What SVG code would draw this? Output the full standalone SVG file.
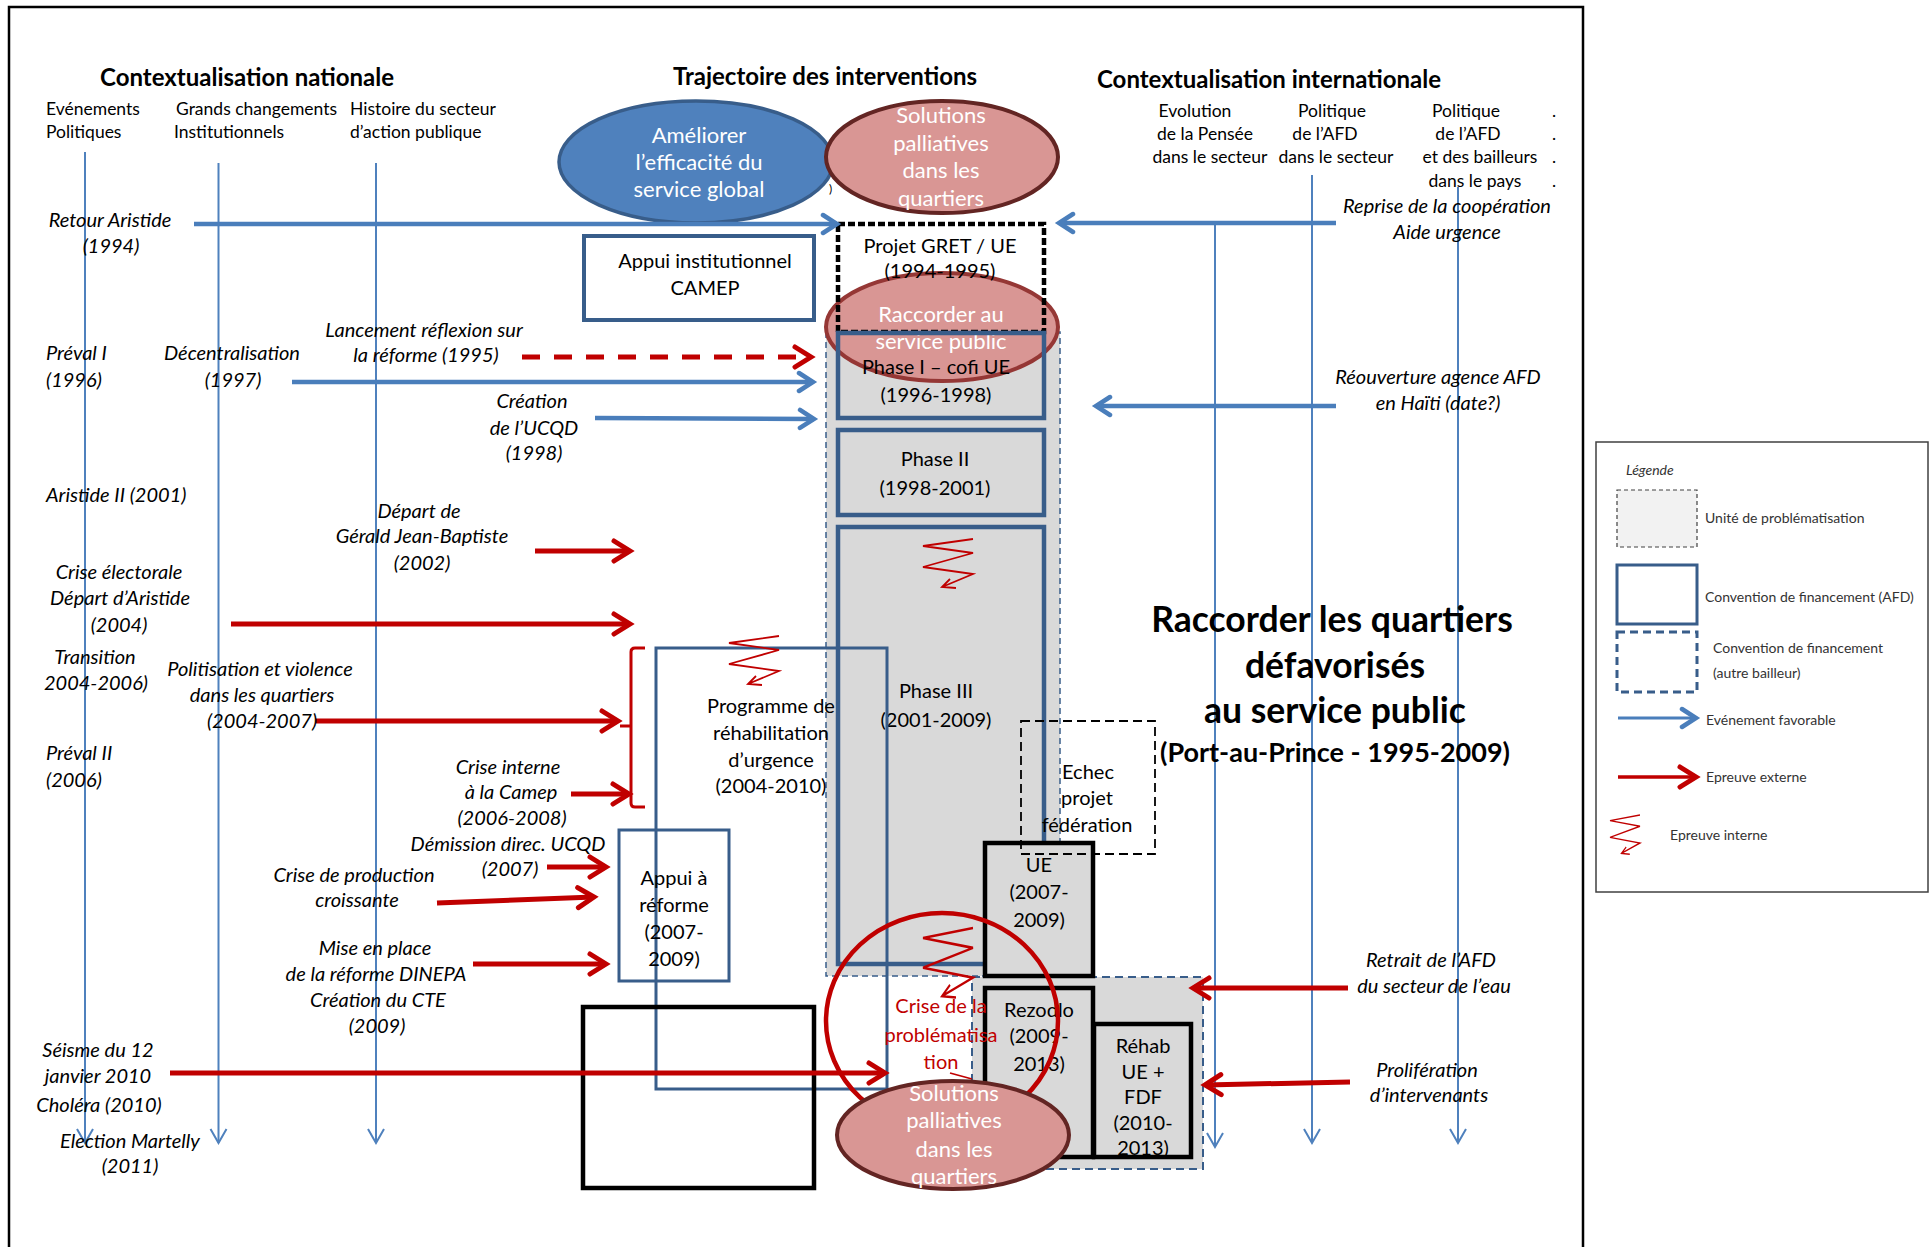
<svg xmlns="http://www.w3.org/2000/svg" width="1930" height="1247" viewBox="0 0 1930 1247">
<style>
text{font-family:Lato,"Liberation Sans",sans-serif;fill:#000}
.it{font-style:italic;font-size:20px;text-anchor:middle}
.st{text-anchor:start}
.hd{font-weight:bold;font-size:24px;text-anchor:middle}
.sub{font-size:17.5px}
.subm{font-size:17.5px;text-anchor:middle}
.nd{font-size:20px;text-anchor:middle}
.wt{font-size:22px;text-anchor:middle;fill:#fff}
.rt{font-size:20px;text-anchor:middle;fill:#C00000}
.ti{font-weight:bold;font-size:35.5px;text-anchor:middle}
.lg{font-size:14px;fill:#333}
.tl{stroke:#4F81BD;stroke-width:2;fill:none;marker-end:url(#av)}
.ba{stroke:#4A7EBB;stroke-width:4.5;fill:none;marker-end:url(#ab)}
.ra{stroke:#C00000;stroke-width:5;fill:none;marker-end:url(#ar)}
.pb{fill:none;stroke:#385D8A;stroke-width:4.5}
.bb{fill:#D9D9D9;stroke:#000;stroke-width:4.5}
.zz{fill:none;stroke:#C00000;stroke-width:1.8}
</style>
<defs>
<marker id="ab" markerUnits="userSpaceOnUse" viewBox="0 0 24 24" markerWidth="24" markerHeight="24" refX="17" refY="12" orient="auto">
<path d="M3,3 L17,12 L3,21" fill="none" stroke="#4A7EBB" stroke-width="4.5" stroke-linecap="round"/>
</marker>
<marker id="ar" markerUnits="userSpaceOnUse" viewBox="0 0 26 26" markerWidth="26" markerHeight="26" refX="19" refY="13" orient="auto">
<path d="M3,3 L19,13 L3,23" fill="none" stroke="#C00000" stroke-width="5" stroke-linecap="round"/>
</marker>
<marker id="av" markerUnits="userSpaceOnUse" viewBox="0 0 20 20" markerWidth="20" markerHeight="20" refX="16" refY="10" orient="auto">
<path d="M2,2 L16,10 L2,18" fill="none" stroke="#4F81BD" stroke-width="2"/>
</marker>
<path id="zig" d="M50,0 L0,7 L50,14 L0,28 L50,35 L19,48 M33,49 L19,48 L27,40"/>
</defs>

<!-- frame -->
<path d="M9,1247 V7 H1583 V1247" fill="none" stroke="#000" stroke-width="2.5"/>

<!-- headers -->
<g id="headers">
<text class="hd" x="247" y="86">Contextualisation nationale</text>
<text class="hd" x="825" y="85">Trajectoire des interventions</text>
<text class="hd" x="1269" y="88">Contextualisation internationale</text>
<text class="sub" x="46" y="115">Evénements</text>
<text class="sub" x="46" y="138">Politiques</text>
<text class="sub" x="176" y="115">Grands changements</text>
<text class="sub" x="174" y="138">Institutionnels</text>
<text class="sub" x="350" y="115">Histoire du secteur</text>
<text class="sub" x="350" y="138">d’action publique</text>
<text class="subm" x="1195" y="117">Evolution</text>
<text class="subm" x="1205" y="140">de la Pensée</text>
<text class="subm" x="1210" y="163">dans le secteur</text>
<text class="subm" x="1332" y="117">Politique</text>
<text class="subm" x="1325" y="140">de l’AFD</text>
<text class="subm" x="1336" y="163">dans le secteur</text>
<text class="subm" x="1466" y="117">Politique</text>
<text class="subm" x="1468" y="140">de l’AFD</text>
<text class="subm" x="1480" y="163">et des bailleurs</text>
<text class="subm" x="1475" y="187">dans le pays</text>
<text class="sub" x="1552" y="117">.</text>
<text class="sub" x="1552" y="140">.</text>
<text class="sub" x="1552" y="163">.</text>
<text class="sub" x="1552" y="187">.</text>
</g>

<!-- problematisation units -->
<g id="unit1"><rect x="826" y="332" width="234" height="644" fill="#D9D9D9" stroke="#385D8A" stroke-width="1.5" stroke-dasharray="6,4"/></g>
<g id="unit2"><rect x="972" y="977" width="231" height="192" fill="#D9D9D9" stroke="#385D8A" stroke-width="2" stroke-dasharray="8,5"/></g>

<!-- timelines -->
<g id="connectors">
<line class="tl" x1="85" y1="152" x2="85" y2="1143"/>
<line class="tl" x1="218.5" y1="163" x2="218.5" y2="1143"/>
<line class="tl" x1="376" y1="163" x2="376" y2="1143"/>
<line class="tl" x1="1215" y1="224" x2="1215" y2="1147"/>
<line class="tl" x1="1312" y1="175" x2="1312" y2="1143"/>
<line class="tl" x1="1458" y1="187" x2="1458" y2="1143"/>
</g>

<!-- nodes -->
<g id="n-ameliorer">
<ellipse cx="696" cy="162" rx="137" ry="61" fill="#4F81BD" stroke="#385D8A" stroke-width="3.5"/>
<text class="wt" x="699" y="143">Améliorer</text>
<text class="wt" x="699" y="170">l’efficacité du</text>
<text class="wt" x="699" y="197">service global</text>
</g>
<g id="n-solutions-top">
<ellipse cx="942" cy="157" rx="116" ry="56" fill="#D99694" stroke="#632523" stroke-width="4"/>
<text class="wt" x="941" y="123">Solutions</text>
<text class="wt" x="941" y="151">palliatives</text>
<text class="wt" x="941" y="178">dans les</text>
<text class="wt" x="941" y="206">quartiers</text>
</g>
<text x="829" y="193" style="font-size:12px">)</text>

<g id="n-camep">
<rect x="584" y="236" width="230" height="84" fill="#fff" stroke="#385D8A" stroke-width="4"/>
<text class="nd" x="705" y="268">Appui institutionnel</text>
<text class="nd" x="705" y="295">CAMEP</text>
</g>

<g id="n-raccorder">
<ellipse cx="942" cy="327" rx="116" ry="54" fill="#D99694" stroke="#953735" stroke-width="4"/>
<text class="wt" x="941" y="322">Raccorder au</text>
<text class="wt" x="941" y="349">service public</text>
</g>

<g id="n-gret">
<rect x="838" y="224" width="206" height="108" fill="none" stroke="#000" stroke-width="4.5" stroke-dasharray="7,3"/>
<text class="nd" x="940" y="253">Projet GRET / UE</text>
<text class="nd" x="940" y="278">(1994-1995)</text>
</g>

<g id="n-phase1">
<rect x="838" y="333" width="206" height="85" class="pb"/>
<text class="nd" x="936" y="374">Phase I – cofi UE</text>
<text class="nd" x="936" y="402">(1996-1998)</text>
</g>
<g id="n-phase2">
<rect x="838" y="430" width="206" height="85" class="pb"/>
<text class="nd" x="935" y="466">Phase  II</text>
<text class="nd" x="935" y="495">(1998-2001)</text>
</g>
<g id="n-phase3">
<rect x="838" y="527" width="206" height="437" class="pb"/>
<use href="#zig" class="zz" x="923" y="539"/>
<text class="nd" x="936" y="698">Phase  III</text>
<text class="nd" x="936" y="727">(2001-2009)</text>
</g>

<g id="n-programme">
<rect x="656" y="648" width="231" height="441" fill="none" stroke="#385D8A" stroke-width="3"/>
<use href="#zig" class="zz" x="729" y="636"/>
<text class="nd" x="771" y="713">Programme de</text>
<text class="nd" x="771" y="740">réhabilitation</text>
<text class="nd" x="771" y="767">d’urgence</text>
<text class="nd" x="771" y="793">(2004-2010)</text>
</g>

<g id="n-appui-reforme">
<rect x="619" y="830" width="110" height="151" fill="none" stroke="#385D8A" stroke-width="3"/>
<text class="nd" x="674" y="885">Appui à</text>
<text class="nd" x="674" y="912">réforme</text>
<text class="nd" x="674" y="939">(2007-</text>
<text class="nd" x="674" y="966">2009)</text>
</g>

<g id="n-ue">
<rect x="985" y="843" width="108" height="133" class="bb"/>
<text class="nd" x="1039" y="872">UE</text>
<text class="nd" x="1039" y="899">(2007-</text>
<text class="nd" x="1039" y="927">2009)</text>
</g>

<g id="n-echec">
<rect x="1021" y="721" width="134" height="133" fill="none" stroke="#000" stroke-width="1.8" stroke-dasharray="9,5"/>
<text class="nd" x="1088" y="779">Echec</text>
<text class="nd" x="1087" y="805">projet</text>
<text class="nd" x="1087" y="832">fédération</text>
</g>

<g id="n-rezodlo">
<rect x="985" y="988" width="108" height="169" class="bb"/>
<text class="nd" x="1039" y="1017">Rezodlo</text>
<text class="nd" x="1039" y="1043">(2009-</text>
<text class="nd" x="1039" y="1071">2013)</text>
</g>
<g id="n-rehab">
<rect x="1094" y="1024" width="97" height="133" class="bb"/>
<text class="nd" x="1143" y="1053">Réhab</text>
<text class="nd" x="1143" y="1079">UE +</text>
<text class="nd" x="1143" y="1104">FDF</text>
<text class="nd" x="1143" y="1130">(2010-</text>
<text class="nd" x="1143" y="1155">2013)</text>
</g>

<g id="n-blackbox">
<rect x="583" y="1007" width="231" height="181" fill="none" stroke="#000" stroke-width="4.5"/>
</g>

<g id="n-crise">
<ellipse cx="942" cy="1021" rx="116" ry="108" fill="none" stroke="#C00000" stroke-width="4.5"/>
<use href="#zig" class="zz" transform="translate(923,928) scale(1,1.42)" style="vector-effect:non-scaling-stroke"/>
<line x1="950" y1="1073" x2="972" y2="1079" stroke="#C00000" stroke-width="1.8"/>
<text class="rt" x="941" y="1013">Crise de la</text>
<text class="rt" x="941" y="1042">problématisa</text>
<text class="rt" x="941" y="1069">tion</text>
</g>

<g id="n-solutions-bottom">
<ellipse cx="953" cy="1135" rx="116" ry="54" fill="#D99694" stroke="#632523" stroke-width="4"/>
<text class="wt" x="954" y="1101">Solutions</text>
<text class="wt" x="954" y="1128">palliatives</text>
<text class="wt" x="954" y="1157">dans les</text>
<text class="wt" x="954" y="1184">quartiers</text>
</g>

<!-- arrows -->
<g id="arrows">
<line class="ba" x1="194" y1="224" x2="837" y2="224"/>
<line class="ba" x1="1336" y1="223" x2="1059" y2="223"/>
<line class="ra" x1="522" y1="357" x2="811" y2="357" stroke-dasharray="18,14"/>
<line class="ba" x1="292" y1="382" x2="813" y2="382"/>
<line class="ba" x1="595" y1="418" x2="814" y2="419"/>
<line class="ba" x1="1336" y1="406" x2="1096" y2="406"/>
<line class="ra" x1="535" y1="551" x2="630" y2="551"/>
<line class="ra" x1="231" y1="624" x2="630" y2="624"/>
<line class="ra" x1="316" y1="721" x2="618" y2="721"/>
<line class="ra" x1="571" y1="794" x2="629" y2="794"/>
<path d="M645,648 H635 Q631,648 631,652 V726 H620 M631,726 V803 Q631,807 635,807 H645" fill="none" stroke="#C00000" stroke-width="3"/>
<line class="ra" x1="547" y1="867" x2="606" y2="867"/>
<line class="ra" x1="437" y1="903" x2="594" y2="897"/>
<line class="ra" x1="473" y1="964" x2="606" y2="964"/>
<line class="ra" x1="170" y1="1073" x2="885" y2="1073"/>
<line class="ra" x1="1348" y1="988" x2="1193" y2="988"/>
<line class="ra" x1="1350" y1="1082" x2="1205" y2="1085"/>
</g>

<!-- event labels -->
<g id="labels-national">
<text class="it" x="110" y="227">Retour Aristide</text>
<text class="it" x="111" y="253">(1994)</text>
<text class="it st" x="46" y="360">Préval I</text>
<text class="it st" x="46" y="387">(1996)</text>
<text class="it" x="232" y="360">Décentralisation</text>
<text class="it" x="233" y="387">(1997)</text>
<text class="it" x="424" y="337">Lancement réflexion sur</text>
<text class="it" x="426" y="362">la réforme (1995)</text>
<text class="it" x="532" y="408">Création</text>
<text class="it" x="534" y="435">de l’UCQD</text>
<text class="it" x="534" y="460">(1998)</text>
<text class="it st" x="46" y="502">Aristide II (2001)</text>
<text class="it" x="419" y="518">Départ de</text>
<text class="it" x="422" y="543">Gérald Jean-Baptiste</text>
<text class="it" x="422" y="570">(2002)</text>
<text class="it" x="119" y="579">Crise électorale</text>
<text class="it" x="120" y="605">Départ d’Aristide</text>
<text class="it" x="119" y="632">(2004)</text>
<text class="it" x="95" y="664">Transition</text>
<text class="it" x="96" y="690">2004-2006)</text>
<text class="it" x="260" y="676">Politisation et violence</text>
<text class="it" x="262" y="702">dans les quartiers</text>
<text class="it" x="262" y="728">(2004-2007)</text>
<text class="it st" x="46" y="760">Préval II</text>
<text class="it st" x="46" y="787">(2006)</text>
<text class="it" x="508" y="774">Crise interne</text>
<text class="it" x="511" y="799">à la Camep</text>
<text class="it" x="512" y="825">(2006-2008)</text>
<text class="it" x="508" y="851">Démission direc. UCQD</text>
<text class="it" x="510" y="876">(2007)</text>
<text class="it" x="354" y="882">Crise de production</text>
<text class="it" x="357" y="907">croissante</text>
<text class="it" x="375" y="955">Mise en place</text>
<text class="it" x="376" y="981">de la réforme DINEPA</text>
<text class="it" x="378" y="1007">Création du CTE</text>
<text class="it" x="377" y="1033">(2009)</text>
<text class="it" x="98" y="1057">Séisme du 12</text>
<text class="it" x="98" y="1083">janvier 2010</text>
<text class="it" x="99" y="1112">Choléra (2010)</text>
<text class="it" x="130" y="1148">Election Martelly</text>
<text class="it" x="130" y="1173">(2011)</text>
</g>
<g id="labels-international">
<text class="it" x="1447" y="213">Reprise de la coopération</text>
<text class="it" x="1447" y="239">Aide urgence</text>
<text class="it" x="1438" y="384">Réouverture agence AFD</text>
<text class="it" x="1438" y="410">en Haïti (date?)</text>
<text class="it" x="1431" y="967">Retrait de l’AFD</text>
<text class="it" x="1434" y="993">du secteur de l’eau</text>
<text class="it" x="1427" y="1077">Prolifération</text>
<text class="it" x="1429" y="1102">d’intervenants</text>
</g>

<g id="title">
<text class="ti" x="1332" y="632">Raccorder les quartiers</text>
<text class="ti" x="1335" y="678">défavorisés</text>
<text class="ti" x="1335" y="723">au service public</text>
<text class="ti" x="1335" y="762" style="font-size:27px">(Port-au-Prince - 1995-2009)</text>
</g>

<g id="legend">
<rect x="1596" y="442" width="332" height="450" fill="#fff" stroke="#404040" stroke-width="1.5"/>
<text class="lg" x="1626" y="475" style="font-style:italic">Légende</text>
<rect x="1617" y="490" width="80" height="57" fill="#F2F2F2" stroke="#404040" stroke-width="1.2" stroke-dasharray="4,3"/>
<text class="lg" x="1705" y="523">Unité de problématisation</text>
<rect x="1617" y="565" width="80" height="59" fill="#fff" stroke="#385D8A" stroke-width="3"/>
<text class="lg" x="1705" y="602">Convention de financement (AFD)</text>
<rect x="1617" y="632" width="80" height="60" fill="#fff" stroke="#385D8A" stroke-width="3" stroke-dasharray="8,5"/>
<text class="lg" x="1713" y="653">Convention de financement</text>
<text class="lg" x="1713" y="678">(autre bailleur)</text>
<line x1="1618" y1="718" x2="1696" y2="718" stroke="#4A7EBB" stroke-width="3" marker-end="url(#ab)"/>
<text class="lg" x="1706" y="725">Evénement favorable</text>
<line x1="1618" y1="777" x2="1696" y2="777" stroke="#C00000" stroke-width="3.5" marker-end="url(#ar)"/>
<text class="lg" x="1706" y="782">Epreuve externe</text>
<use href="#zig" class="zz" transform="translate(1610,815) scale(0.6,0.8)" style="vector-effect:non-scaling-stroke"/>
<text class="lg" x="1670" y="840">Epreuve interne</text>
</g>
</svg>
